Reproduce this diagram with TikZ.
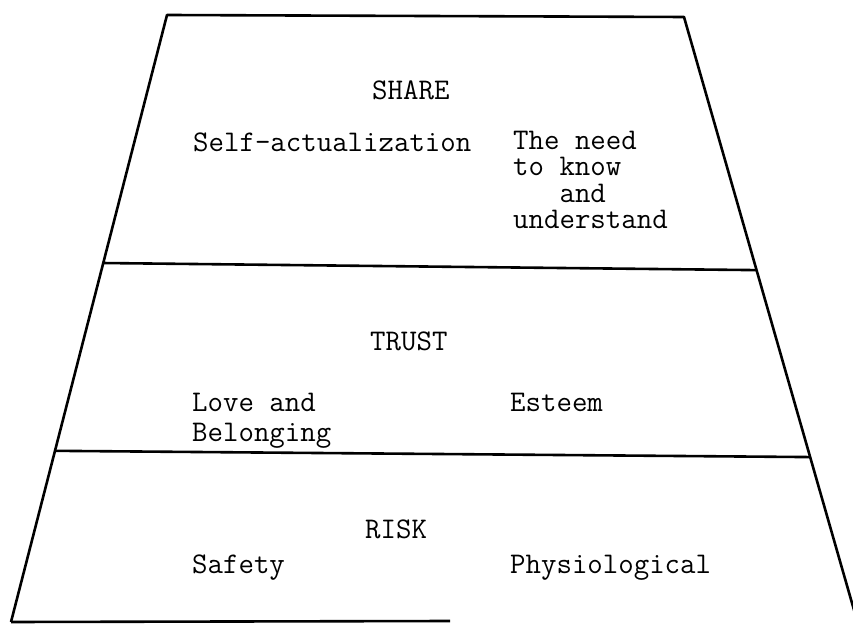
\documentclass[tikz,border=0pt]{standalone}
\usetikzlibrary{calc}
\begin{document}
\begin{tikzpicture}[x=1pt,y=1pt,
      edge/.style={line width=2.6pt, line join=round},
      word/.style={font=\fontsize{30}{26.5}\selectfont\ttfamily,
        inner sep=0pt, anchor=base west, align=left}]
        \useasboundingbox (0,0) rectangle (853,624);
        \coordinate (tl) at (167,609);
        \coordinate (tr) at (684,607);
        \coordinate (bl) at (11,2);
        \coordinate (br) at (858,0);
        \coordinate (bend) at (450,3);
        \coordinate (ul) at ($(tl)!0.4086!(bl)$);
        \coordinate (ur) at ($(tr)!0.417!(br)$);
        \coordinate (ll) at ($(tl)!0.718!(bl)$);
        \coordinate (lr) at ($(tr)!0.725!(br)$);
        \draw[edge] (bl) -- (tl) -- (tr) -- (br);
        \draw[edge] (ul) -- (ur);
        \draw[edge] (ll) -- (lr);
        \draw[edge] (bl) -- (bend);
        \node[word] (share) at (372,524) {SHARE};
        \node[word] (selfact) at (193,472) {Self-actualization};
        \node[word] (need) at (513,395) {The need\\to know\\~~~and\\understand};
        \node[word] (trust) at (370,273) {TRUST};
        \node[word, font=\fontsize{30}{29}\selectfont\ttfamily] (love) at (192,183) {Love and\\Belonging};
        \node[word] (esteem) at (510,212) {Esteem};
        \node[word] (risk) at (365,86) {RISK};
        \node[word] (safety) at (192,51) {Safety};
        \node[word] (physio) at (510,51) {Physiological};
\end{tikzpicture}
\end{document}
